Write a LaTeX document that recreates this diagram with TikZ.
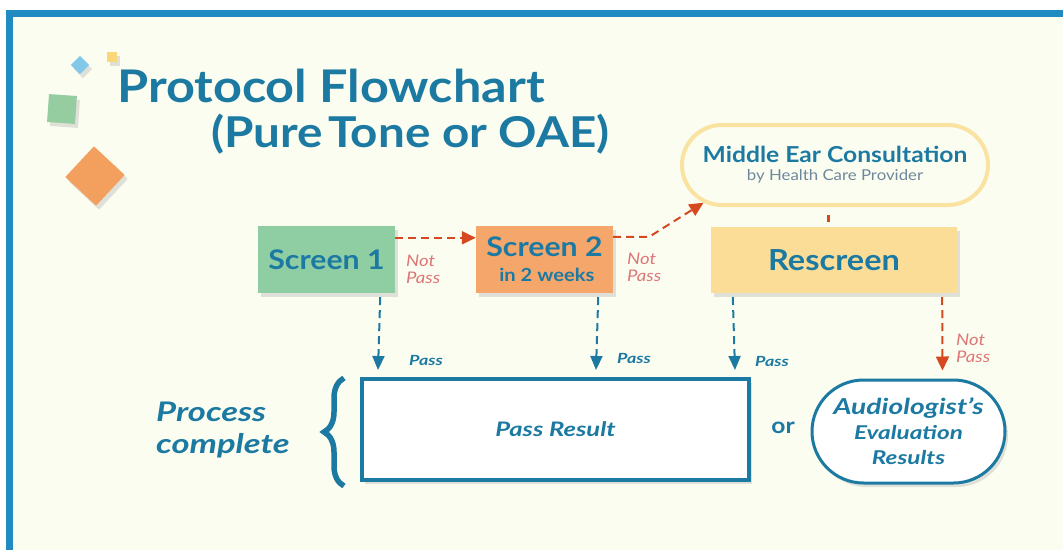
\documentclass[tikz,border=0pt]{standalone}
\usepackage{fontspec}
\setmainfont{Lato}[
  UprightFeatures={FakeStretch=1.12},
  BoldFeatures={FakeStretch=1.12},
  ItalicFeatures={FakeStretch=1.16},
  BoldItalicFeatures={FakeStretch=1.28}]
\usetikzlibrary{arrows.meta,shapes.misc,shadows,decorations.pathreplacing}
\definecolor{bgc}{RGB}{251,253,241}
\definecolor{frameblue}{RGB}{31,139,192}
\definecolor{tblue}{RGB}{28,122,162}
\definecolor{boxgreen}{RGB}{143,205,162}
\definecolor{boxorange}{RGB}{245,166,106}
\definecolor{boxyellow}{RGB}{252,221,152}
\definecolor{meborder}{RGB}{250,226,160}
\definecolor{arrred}{RGB}{214,72,32}
\definecolor{npred}{RGB}{222,118,118}
\definecolor{subgray}{RGB}{110,135,155}
\definecolor{dblue}{RGB}{130,200,235}
\definecolor{dyellow}{RGB}{250,215,120}
\definecolor{dgreen}{RGB}{150,205,160}
\definecolor{dorange}{RGB}{243,160,95}
\tikzset{
  shad/.style={drop shadow={opacity=0.22,shadow xshift=3pt,shadow yshift=-4pt}},
  screenbox/.style={rectangle,draw=none,shad,text=tblue,font=\bfseries\fontsize{27}{27}\selectfont,align=center,inner sep=0pt},
  resultbox/.style={rectangle,draw=tblue,line width=4pt,fill=white,shad,text=tblue,inner sep=0pt},
  passarr/.style={draw=tblue,line width=2pt,dash pattern=on 8pt off 5pt,-{Triangle[length=14pt,width=12pt]}},
  failarr/.style={draw=arrred,line width=2pt,dash pattern=on 8pt off 5pt,-{Triangle[length=14pt,width=13pt]}},
  passlbl/.style={text=tblue,font=\bfseries\itshape\fontsize{14}{14}\selectfont,inner sep=0pt},
  nplbl/.style={text=npred,font=\itshape\fontsize{16}{17}\selectfont,align=left,inner sep=0pt,anchor=west},
  deco/.style={draw=none,shad},
}
\begin{document}
\begin{tikzpicture}[x=1pt,y=-1pt]
\useasboundingbox (0,0) rectangle (1063,550);
\fill[white] (0,0) rectangle (1063,550);
\fill[frameblue] (6,10) rectangle (1063,550);
\fill[bgc] (13,17) rectangle (1063,550);
% decorative squares
\node[deco,fill=dblue,minimum size=13pt,rotate=45,inner sep=0pt] (dq1) at (80,65) {};
\node[deco,fill=dyellow,minimum size=10pt,inner sep=0pt] (dq2) at (112,57) {};
\node[deco,fill=dgreen,minimum size=28pt,rotate=-4,inner sep=0pt] (dq3) at (62,109) {};
\node[deco,fill=dorange,minimum size=42pt,rotate=47,inner sep=0pt] (dq4) at (95,176) {};
% title
\node[anchor=base west,text=tblue,font=\bfseries\fontsize{45}{45}\selectfont,inner sep=0pt] (t1) at (117,102) {Protocol Flowchart};
\node[anchor=base west,text=tblue,font=\bfseries\fontsize{42.5}{42.5}\selectfont,inner sep=0pt] (t2) at (211,147) {(Pure\hspace{0.12em}Tone or OAE)};
% boxes
\node[screenbox,fill=boxgreen,minimum width=137pt,minimum height=67pt] (s1) at (326.5,259.5) {Screen 1};
\node[screenbox,fill=boxorange,minimum width=137pt,minimum height=67pt] (s2) at (544.5,259.5) {Screen 2\\[-2pt]{\fontsize{18}{18}\selectfont\ in 2 weeks}};
\node[screenbox,fill=boxyellow,minimum width=246pt,minimum height=66pt,font=\bfseries\fontsize{29}{29}\selectfont] (rs) at (834,260) {Rescreen};
\node[rounded rectangle,draw=meborder,line width=4pt,fill=bgc,minimum width=306pt,minimum height=80pt,align=center,inner sep=0pt,text=tblue] (me) at (835,165)
  {{\bfseries\fontsize{22}{22}\selectfont Middle Ear Consultation}\\[6pt]{\color{subgray}\fontsize{15}{15}\selectfont by Health Care Provider}};
\node[resultbox,minimum width=387pt,minimum height=101pt,font=\bfseries\itshape\fontsize{20}{20}\selectfont] (pr) at (555.5,429.5) {Pass Result};
\node[rounded rectangle,draw=tblue,line width=3pt,fill=white,shad,minimum width=193pt,minimum height=103pt,align=center,inner sep=0pt,text=tblue,font=\bfseries\itshape\fontsize{19}{25}\selectfont] (au) at (908.5,431.5)
  {{\fontsize{22}{25}\selectfont Audiologist's}\\Evaluation\\Results};
\node[text=tblue,font=\bfseries\fontsize{22}{22}\selectfont,inner sep=0pt] (or) at (783,428) {or};
\node[text=tblue,font=\bfseries\itshape\fontsize{27}{32}\selectfont,align=left,anchor=west,inner sep=0pt] (pc) at (156,430) {Process\\complete};
% brace
\draw[tblue,line width=5.5pt,decorate,decoration={brace,amplitude=20pt,aspect=0.5}] (344,486) -- (344,378);
% connectors
\draw[failarr] ([yshift=-12pt]s1.north east) -- ([yshift=-12pt]s2.north west);
\draw[failarr] ([yshift=-11pt]s2.north east) -- ++(36,0) -- (me.196);
\draw[draw=arrred,line width=3pt] ([yshift=-8pt,xshift=-7pt]me.south) -- ([yshift=5pt,xshift=-6pt]rs.north);
\draw[passarr] ([xshift=-15pt,yshift=-4pt]s1.south east) -- ([xshift=18pt,yshift=7pt]pr.north west);
\draw[passarr] ([xshift=-15pt,yshift=-4pt]s2.south east) -- ([xshift=236pt,yshift=7pt]pr.north west);
\draw[passarr] ([xshift=22pt,yshift=-4pt]rs.south west) -- ([xshift=-16pt,yshift=7pt]pr.north east);
\draw[failarr] ([xshift=-15pt,yshift=-4pt]rs.south east) -- ([xshift=34pt,yshift=8pt]au.north);
% labels
\node[nplbl] (np1) at (406,269) {Not\\Pass};
\node[nplbl] (np2) at (627,267) {Not\\Pass};
\node[nplbl] (np3) at (956,348) {Not\\Pass};
\node[passlbl,anchor=west] (p1) at (409,360) {Pass};
\node[passlbl,anchor=west] (p2) at (617,358) {Pass};
\node[passlbl,anchor=west] (p3) at (755,361) {Pass};
\end{tikzpicture}
\end{document}
